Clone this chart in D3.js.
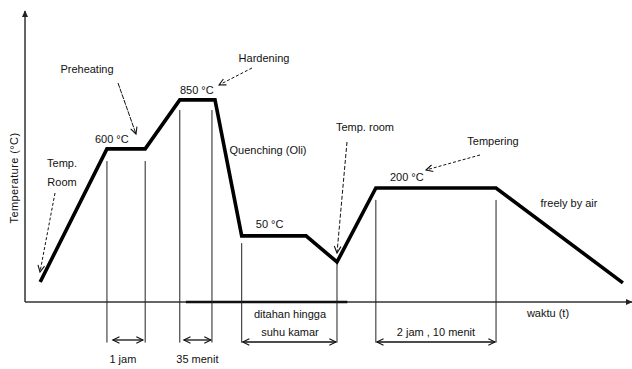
<!DOCTYPE html>
<html><head><meta charset="utf-8">
<script src="https://cdn.jsdelivr.net/npm/d3@7"></script>
<style>
html,body{margin:0;padding:0;background:#fff;}
text{font-family:"Liberation Sans",Arial,sans-serif;font-size:11px;fill:#111;}
</style></head>
<body>
<svg id="c" width="632" height="369"></svg>
<script>
// schematic time (arbitrary units) and relative temperature level (0-100 of axis height)
const stageTime  = [2.5, 13.5, 19.8, 25.5, 31.3, 35.7, 46.3, 51.4, 57.8, 77.6, 98.5];
const stageLevel = [6.9, 52.8, 52.8, 69.7, 69.7, 22.8, 22.8, 13.8, 39.3, 39.3, 6.6];
// vertical guide lines: time, top level
const guideTime  = [13.5, 19.8, 25.5, 30.8, 35.7, 51.4, 57.8, 77.6];
const guideTop   = [48.6, 48.6, 66.2, 66.2, 20.3, 13.8, 35.2, 35.2];
// duration spans
const spanStart  = [14.3, 26.0, 35.7, 57.8];
const spanEnd    = [19.6, 30.8, 51.4, 77.6];
const spanLabel  = ["1 jam", "35 menit", "", "2 jam , 10 menit"];
const tempLabels = ["600 °C", "850 °C", "50 °C", "200 °C"];
const tempLabelAt= [[14.3, 56.2], [28.3, 73.1], [40.3, 26.8], [62.9, 43.1]];

const W = 632, H = 369;
const x = d3.scaleLinear().domain([0, 100]).range([25, 632]);
const y = d3.scaleLinear().domain([0, 100]).range([302, 12]);
const svg = d3.select("#c");
const defs = svg.append("defs");
defs.append("marker").attr("id","tri").attr("viewBox","0 -5 10 10").attr("refX",9).attr("refY",0)
  .attr("markerWidth",7).attr("markerHeight",9).attr("markerUnits","userSpaceOnUse").attr("orient","auto")
  .append("path").attr("d","M0,-4.5L10,0L0,4.5Z").attr("fill","#222");
defs.append("marker").attr("id","chev").attr("viewBox","-10 -6 12 12").attr("refX",0).attr("refY",0)
  .attr("markerWidth",10).attr("markerHeight",10).attr("markerUnits","userSpaceOnUse").attr("orient","auto-start-reverse")
  .append("path").attr("d","M-8,-4L0,0L-8,4").attr("fill","none").attr("stroke","#111").attr("stroke-width",1.3);

// axes
svg.append("line").attr("x1",x(0)).attr("y1",y(0)).attr("x2",x(0)).attr("y2",y(100)-1)
  .attr("stroke","#333").attr("stroke-width",1.5).attr("marker-end","url(#tri)");
svg.append("line").attr("x1",x(0)).attr("y1",y(0)).attr("x2",x(100)).attr("y2",y(0))
  .attr("stroke","#333").attr("stroke-width",1.5).attr("marker-end","url(#tri)");
svg.append("line").attr("x1",x(26.5)).attr("y1",y(0)).attr("x2",x(53.1)).attr("y2",y(0))
  .attr("stroke","#111").attr("stroke-width",2.6);

// guides
svg.append("g").selectAll("line").data(guideTime).join("line")
  .attr("x1",d=>x(d)).attr("x2",d=>x(d))
  .attr("y1",(d,i)=>y(guideTop[i])).attr("y2",y(-14))
  .attr("stroke","#222").attr("stroke-width",1);

// spans
svg.append("g").selectAll("line").data(spanStart).join("line")
  .attr("x1",d=>x(d)+1).attr("x2",(d,i)=>x(spanEnd[i])-1)
  .attr("y1",(d,i)=> i<2 ? y(-13.1) : y(-13.8)).attr("y2",(d,i)=> i<2 ? y(-13.1) : y(-13.8))
  .attr("stroke","#111").attr("stroke-width",1.3)
  .attr("marker-start","url(#chev)").attr("marker-end","url(#chev)");
svg.append("g").selectAll("text").data(spanLabel).join("text")
  .attr("x",(d,i)=> (x(spanStart[i])+x(spanEnd[i]))/2 - (i==0?5:0))
  .attr("y",(d,i)=> i<2 ? y(-19.5) : y(-10.3))
  .attr("text-anchor","middle").attr("dominant-baseline","central").text(d=>d);
svg.append("text").attr("x",290).attr("y",314).attr("text-anchor","middle").attr("dominant-baseline","central").text("ditahan hingga");
svg.append("text").attr("x",290).attr("y",332).attr("text-anchor","middle").attr("dominant-baseline","central").text("suhu kamar");
svg.append("text").attr("x",548).attr("y",313).attr("text-anchor","middle").attr("dominant-baseline","central").text("waktu (t)");

// curve
svg.append("path").datum(stageTime.map((t,i)=>[t,stageLevel[i]]))
  .attr("d", d3.line().x(d=>x(d[0])).y(d=>y(d[1])))
  .attr("fill","none").attr("stroke","#000").attr("stroke-width",3.6).attr("stroke-linejoin","miter");

// temperature labels
svg.append("g").selectAll("text").data(tempLabels).join("text")
  .attr("x",(d,i)=>x(tempLabelAt[i][0])).attr("y",(d,i)=>y(tempLabelAt[i][1]))
  .attr("text-anchor","middle").attr("dominant-baseline","central").text(d=>d);

// annotations
const notes = [
  {t:"Temp.", x:62, y:163}, {t:"Room", x:62, y:182},
  {t:"Preheating", x:87, y:69}, {t:"Hardening", x:264, y:58},
  {t:"Quenching (Oli)", x:268, y:150}, {t:"Temp. room", x:365, y:127},
  {t:"Tempering", x:493, y:141}, {t:"freely by air", x:569, y:203}
];
svg.append("g").selectAll("text").data(notes).join("text")
  .attr("x",d=>d.x).attr("y",d=>d.y).attr("text-anchor","middle").attr("dominant-baseline","central").text(d=>d.t);

const pointers = [
  {x1:55,y1:193,x2:40,y2:272,dash:"3,2"},
  {x1:118,y1:83,x2:136,y2:134,dash:"5,1"},
  {x1:252,y1:68,x2:219,y2:85,dash:"3,2"},
  {x1:347,y1:142,x2:337,y2:253,dash:"4,2"},
  {x1:480,y1:155,x2:426,y2:170,dash:"3,2"}
];
svg.append("g").selectAll("line").data(pointers).join("line")
  .attr("x1",d=>d.x1).attr("y1",d=>d.y1).attr("x2",d=>d.x2).attr("y2",d=>d.y2)
  .attr("stroke","#111").attr("stroke-width",1).attr("stroke-dasharray",d=>d.dash)
  .attr("marker-end","url(#chev)");

// y label
svg.append("text").attr("transform","translate(14,178) rotate(-90)")
  .attr("text-anchor","middle").attr("dominant-baseline","central").attr("letter-spacing","0.4")
  .text("Temperature (°C)");
</script>
</body></html>
